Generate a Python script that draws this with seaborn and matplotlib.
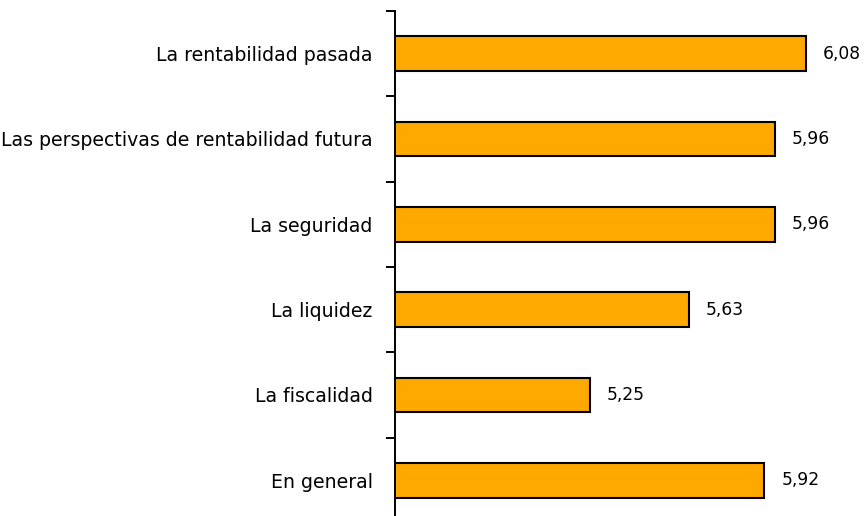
import matplotlib
matplotlib.use("Agg")
import matplotlib.pyplot as plt
import seaborn as sns
import pandas as pd
import numpy as np

categories = ["La rentabilidad pasada", "Las perspectivas de rentabilidad futura",
              "La seguridad", "La liquidez", "La fiscalidad", "En general"]
values = [6.08, 5.96, 5.96, 5.63, 5.25, 5.92]
value_labels = ["6,08", "5,96", "5,96", "5,63", "5,25", "5,92"]

df = pd.DataFrame({"cat": categories, "val": values})

sns.set_style("white")
plt.rcParams['font.family'] = ['DejaVu Sans']

fig = plt.figure(figsize=(8.64, 5.16), dpi=100)
ax = fig.add_axes([395/864, -7/516, 1 - 395/864, 512/516])
sns.barplot(data=df, y="cat", x="val", orient="h", color="#FFA800",
            saturation=1, edgecolor="black", linewidth=1.5, width=0.41, ax=ax)
ax.set_xlim(4.5, 4.5 + 469/260.2)
ax.set_ylim(len(categories) - 0.5, -0.5)
for s in ["top", "right", "bottom"]:
    ax.spines[s].set_visible(False)
ax.spines["left"].set_color("black")
ax.spines["left"].set_linewidth(1.4)
ax.set_xticks([])
ax.set_xlabel("")
ax.set_ylabel("")
ax.tick_params(axis="y", which="major", left=False, length=0, pad=16, labelsize=13.6, colors="black")
ax.set_yticks(np.arange(-0.5, len(categories) + 0.5, 1.0), minor=True)
ax.tick_params(axis="y", which="minor", left=True, length=6.5, width=1.4, color="black", direction="out")
for i, (v, t) in enumerate(zip(values, value_labels)):
    ax.annotate(t, xy=(v, i), xytext=(12, 0), textcoords="offset points",
                va="center", ha="left", fontsize=12.3, color="black")
fig.savefig("out.png", dpi=100)
